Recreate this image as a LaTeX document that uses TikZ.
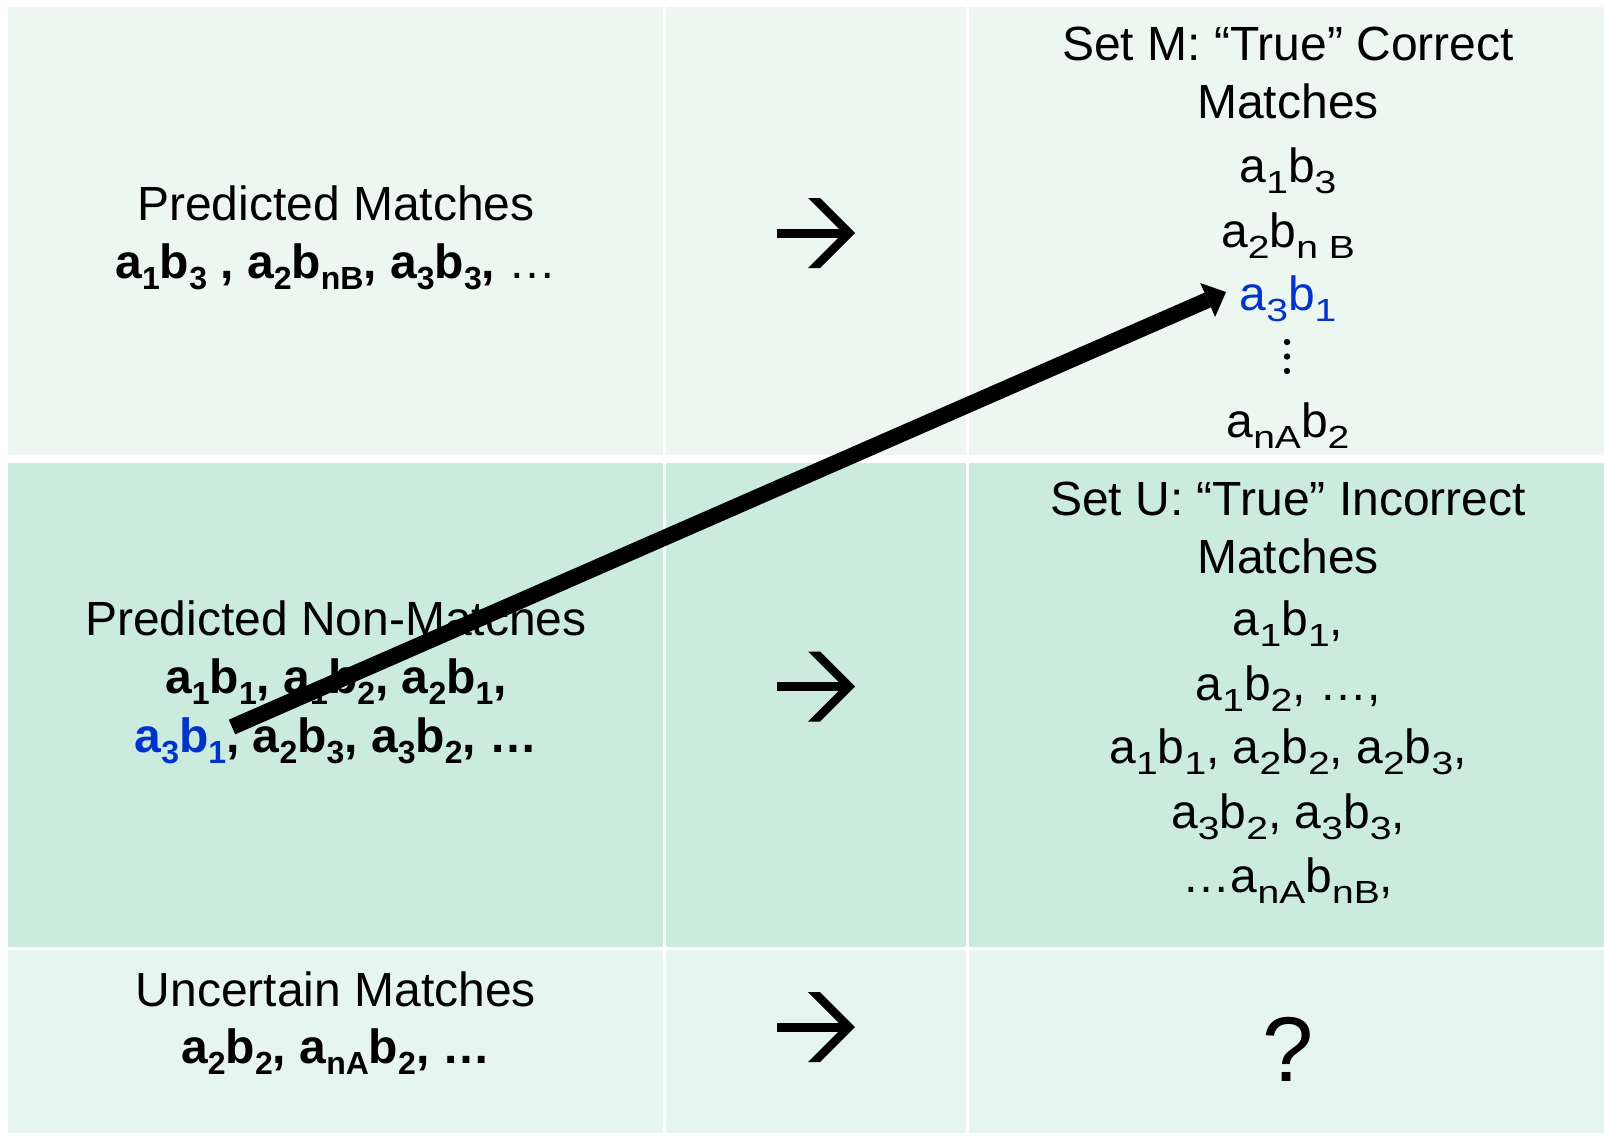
\documentclass[tikz,border=0pt]{standalone}
\usepackage{fontspec}
\setmainfont{Liberation Sans}
\usetikzlibrary{arrows.meta}
\definecolor{rowA}{RGB}{237,247,242}
\definecolor{rowB}{RGB}{204,235,223}
\definecolor{rowC}{RGB}{230,245,239}
\definecolor{hiblue}{RGB}{0,51,204}
\newcommand{\lo}[1]{\raisebox{-5.8pt}{\fontsize{16}{16}\selectfont #1}}
\newcommand{\low}[1]{\raisebox{-5.8pt}{\scalebox{1.22}[1]{\fontsize{16}{16}\selectfont #1}}}
\begin{document}
\begin{tikzpicture}[x=0.5pt,y=-0.5pt,
  txt/.style={anchor=base,inner sep=0pt,font=\fontsize{24}{28}\selectfont},
  btxt/.style={anchor=base,inner sep=0pt,font=\fontsize{24}{28}\selectfont\bfseries},
  rarrow/.pic={
    \fill (-39,-4.5) rectangle (29,4.5);
    \fill (-8,-35) -- (4,-35) -- (39,0) -- (4,35) -- (-8,35) -- (27,0) -- cycle;
  },
  bigarrow/.style={line width=8pt,-{Triangle[length=10pt,width=18.5pt,line width=0pt]}}
]
\useasboundingbox (0,0) rectangle (1604,1135);
\fill[white] (0,0) rectangle (1604,1135);
% cells
\fill[rowA] (8,7) rectangle (663,455);
\fill[rowA] (666,7) rectangle (966,455);
\fill[rowA] (969,7) rectangle (1604,455);
\fill[rowB] (8,463) rectangle (663,947);
\fill[rowB] (666,463) rectangle (966,947);
\fill[rowB] (969,463) rectangle (1604,947);
\fill[rowC] (8,950) rectangle (663,1133);
\fill[rowC] (666,950) rectangle (966,1133);
\fill[rowC] (969,950) rectangle (1604,1133);
% column 1
\node[txt]  (pm1) at (336,220) {Predicted Matches};
\node[btxt] (pm2) at (336,278) {a\lo{1}b\lo{3} , a\lo{2}b\lo{nB}, a\lo{3}b\lo{3}, {\mdseries …}};
\node[txt]  (pn1) at (336,635) {Predicted Non-Matches};
\node[btxt] (pn2) at (336,693) {a\lo{1}b\lo{1}, a\lo{1}b\lo{2}, a\lo{2}b\lo{1},};
\node[btxt] (pn3) at (336,752) {{\color{hiblue}a\lo{3}b\lo{1}}, a\lo{2}b\lo{3}, a\lo{3}b\lo{2}, …};
\node[txt]  (um1) at (336,1006) {Uncertain Matches};
\node[btxt] (um2) at (336,1063) {a\lo{2}b\lo{2}, a\lo{nA}b\lo{2}, …};
% column 2 arrows
\pic at (816,233) {rarrow};
\pic at (816,686.5) {rarrow};
\pic at (816,1027) {rarrow};
% column 3, set M
\node[txt] (sm1) at (1288,60) {Set M: “True” Correct};
\node[txt] (sm2) at (1288,118) {Matches};
\node[txt] (sm3) at (1288,182) {a\low{1}b\low{3}};
\node[txt] (sm4) at (1288,247) {a\low{2}b\low{n B}};
\node[txt,text=hiblue] (sm5) at (1288,310) {a\low{3}b\low{1}};
\fill (1287,342) circle (3.2);
\fill (1287,356.5) circle (3.2);
\fill (1287,371) circle (3.2);
\node[txt] (sm6) at (1288,437) {a\low{nA}b\low{2}};
% column 3, set U
\node[txt] (su1) at (1288,515) {Set U: “True” Incorrect};
\node[txt] (su2) at (1288,573) {Matches};
\node[txt] (su3) at (1288,635) {a\low{1}b\low{1},};
\node[txt] (su4) at (1288,700) {a\low{1}b\low{2}, …,};
\node[txt] (su5) at (1288,763) {a\low{1}b\low{1}, a\low{2}b\low{2}, a\low{2}b\low{3},};
\node[txt] (su6) at (1288,828) {a\low{3}b\low{2}, a\low{3}b\low{3},};
\node[txt] (su7) at (1288,892) {…a\low{nA}b\low{nB},};
% column 3, uncertain
\node[anchor=base,inner sep=0pt,font=\fontsize{46}{50}\selectfont] (q) at (1288,1081) {?};
% big arrow
\coordinate (tail) at (232,727);
\coordinate (head) at (1226,292);
\draw[bigarrow] (tail) -- (head);
\end{tikzpicture}
\end{document}
